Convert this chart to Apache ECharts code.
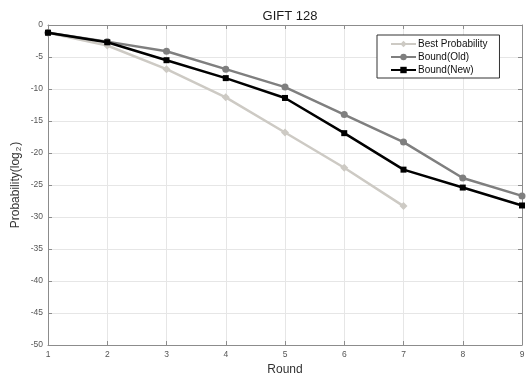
<!DOCTYPE html>
<html>
<head>
<meta charset="utf-8">
<script src="https://cdn.jsdelivr.net/npm/echarts@6/dist/echarts.min.js"></script>
<style>
  html, body { margin: 0; padding: 0; background: #fff; }
  #chart { width: 532px; height: 375px; }
</style>
</head>
<body>
<div id="chart"></div>
<script>
const rounds = [1, 2, 3, 4, 5, 6, 7, 8, 9]
const bestProb = [-1.2, -3.2, -6.9, -11.3, -16.8, -22.3, -28.3]
const boundOld = [-1.2, -2.6, -4.1, -6.9, -9.7, -14.0, -18.3, -23.9, -26.7]
const boundNew = [-1.2, -2.7, -5.5, -8.3, -11.4, -16.9, -22.6, -25.4, -28.2]

const font = 'Liberation Sans, Arial, sans-serif'
const axisColor = '#8c8c8c'

const pairs = (vals) => vals.map((v, i) => [rounds[i], v])

const chart = echarts.init(document.getElementById('chart'))

const baseX = {
  type: 'value',
  min: 1,
  max: 9,
  interval: 1,
  axisLine: { show: true, onZero: false, lineStyle: { color: axisColor, width: 1 } },
  axisTick: { show: true, inside: true, length: 4, lineStyle: { color: axisColor } },
  splitLine: { show: false }
}
const baseY = {
  type: 'value',
  min: -50,
  max: 0,
  interval: 5,
  axisLine: { show: true, onZero: false, lineStyle: { color: axisColor, width: 1 } },
  axisTick: { show: true, inside: true, length: 4, lineStyle: { color: axisColor } },
  splitLine: { show: false }
}

chart.setOption({
  animation: false,
  title: {
    text: 'GIFT 128',
    left: 285,
    top: 5,
    textAlign: 'center',
    textStyle: { fontFamily: font, fontSize: 13, fontWeight: 'normal', color: '#1a1a1a' }
  },
  grid: { left: 48, right: 10, top: 25, bottom: 30, containLabel: false, outerBoundsMode: 'none' },
  legend: {
    orient: 'vertical',
    left: 377,
    top: 35,
    padding: [4, 12, 3, 13],
    itemGap: 3,
    itemWidth: 25,
    itemHeight: 8,
    borderColor: '#333',
    borderWidth: 1,
    backgroundColor: '#fff',
    textStyle: { fontFamily: font, fontSize: 10, color: '#111', padding: [0, 0, 0, -3] },
    data: ['Best Probability', 'Bound(Old)', 'Bound(New)']
  },
  xAxis: [
    Object.assign({}, baseX, {
      position: 'bottom',
      name: 'Round',
      nameLocation: 'middle',
      nameGap: 17,
      nameTextStyle: { fontFamily: font, fontSize: 12, color: '#333' },
      axisLabel: { fontFamily: font, fontSize: 8.5, color: '#555', margin: 5 },
      splitLine: { show: true, lineStyle: { color: '#e6e6e6', width: 1 } }
    }),
    Object.assign({}, baseX, { position: 'top', axisLabel: { show: false } })
  ],
  yAxis: [
    Object.assign({}, baseY, {
      position: 'left',
      name: 'Probability(log{sub|2})',
      nameLocation: 'middle',
      nameGap: 25,
      nameMoveOverlap: false,
      nameRotate: 90,
      nameTextStyle: {
        fontFamily: font, fontSize: 12, color: '#333',
        rich: { sub: { fontFamily: font, fontSize: 8, color: '#333', padding: [7, 1, 0, 1] } }
      },
      axisLabel: { fontFamily: font, fontSize: 8.5, color: '#555', margin: 5 },
      splitLine: { show: true, lineStyle: { color: '#e6e6e6', width: 1 } }
    }),
    Object.assign({}, baseY, { position: 'right', axisLabel: { show: false } })
  ],
  series: [
    {
      name: 'Best Probability',
      type: 'line',
      data: pairs(bestProb),
      symbol: 'diamond',
      symbolSize: 8,
      z: 2,
      lineStyle: { color: '#cdcac4', width: 2.5 },
      itemStyle: { color: '#cdcac4' }
    },
    {
      name: 'Bound(Old)',
      type: 'line',
      data: pairs(boundOld),
      symbol: 'circle',
      symbolSize: 7,
      z: 3,
      lineStyle: { color: '#7f7f7f', width: 2.5 },
      itemStyle: { color: '#7f7f7f' }
    },
    {
      name: 'Bound(New)',
      type: 'line',
      data: pairs(boundNew),
      symbol: 'rect',
      symbolSize: 6,
      z: 4,
      lineStyle: { color: '#000', width: 2.5 },
      itemStyle: { color: '#000' }
    }
  ]
})
</script>
</body>
</html>
